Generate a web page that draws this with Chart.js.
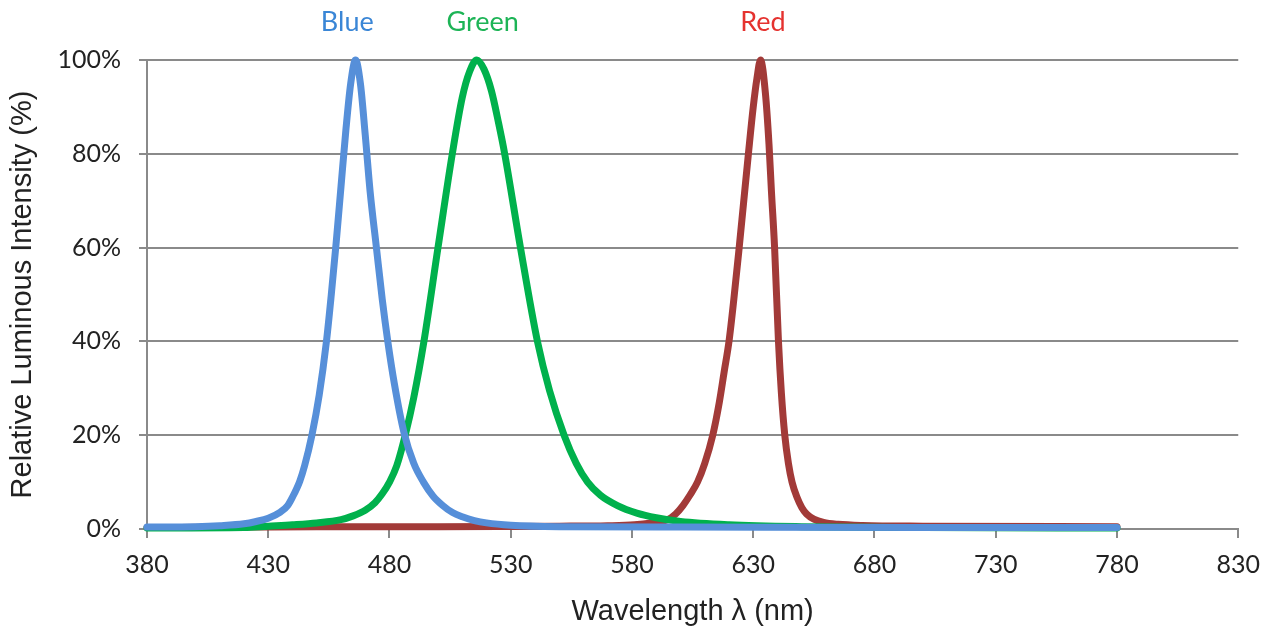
<!DOCTYPE html>
<html>
<head>
<meta charset="utf-8">
<script src="https://cdn.jsdelivr.net/npm/chart.js@4"></script>
<style>
  html, body { margin: 0; padding: 0; background: #fff; }
  #wrap { width: 1272px; height: 633px; }
</style>
</head>
<body>
<div id="wrap"><canvas id="spectrum" width="1272" height="633"></canvas></div>
<script>
// ===== Data =====
const xTicks = [380, 430, 480, 530, 580, 630, 680, 730, 780, 830];
const yTicks = [0, 20, 40, 60, 80, 100];

const blueWl  = [380, 400, 410, 420, 425, 430, 435, 438, 440, 443, 445, 448, 451, 454, 456, 458, 460, 462, 464, 466, 468, 470, 472, 474.6, 477, 479.3, 482, 486, 490, 494, 498, 502, 506, 510, 515, 520, 530, 550, 600, 700, 780];
const blueVal = [0.4, 0.5, 0.7, 1.1, 1.6, 2.3, 3.6, 5.0, 6.8, 10.2, 13.5, 20, 28.5, 40, 50, 61, 73, 85, 95, 100, 95, 84, 72, 60, 49, 40, 31, 20.5, 14, 10, 7, 5, 3.5, 2.6, 1.8, 1.3, 0.8, 0.5, 0.4, 0.3, 0.3];

const greenWl  = [380, 420, 430, 440, 450, 460, 465, 470, 474, 477, 480, 483, 486.5, 490, 494.2, 500, 505.9, 510, 513, 516, 519, 522, 525, 527.5, 534, 541, 546, 552, 557, 561.7, 567, 574, 582, 590, 600, 620, 650, 700, 780];
const greenVal = [0.2, 0.3, 0.6, 0.9, 1.3, 2.0, 2.8, 4.0, 5.6, 7.5, 10, 13.5, 20, 28, 40, 60, 80, 92, 97.5, 100, 98, 93.5, 86.5, 80, 60, 40, 29.5, 20, 14, 10, 7.2, 5, 3.4, 2.4, 1.6, 0.9, 0.5, 0.3, 0.2];

const redWl  = [380, 420, 450, 500, 550, 570, 581, 588, 594.7, 598, 601, 604, 607, 610, 613.3, 616, 618, 620, 622, 624, 626, 628, 630, 631.5, 633, 635, 636.5, 637.5, 638.8, 640.4, 641.6, 643, 644.5, 646, 648, 650, 652, 655, 659, 665, 675, 700, 780];
const redVal = [0.3, 0.4, 0.5, 0.5, 0.6, 0.7, 0.9, 1.3, 2, 3.2, 5, 7.3, 10, 14, 20, 27, 33.5, 40, 49, 59, 69.5, 80, 90, 96, 100, 93, 82, 72, 60, 40, 29, 20, 14, 10, 6.8, 4.6, 3.2, 2.1, 1.4, 1.0, 0.75, 0.6, 0.5];

const seriesNames = ["Blue", "Green", "Red"];
const labelWl = [462.6, 518.4, 634];

// ===== Helpers =====
function toPoints(xs, ys) {
  return xs.map((x, i) => ({ x: x, y: ys[i] }));
}

// colored names above the peaks
const peakLabels = {
  id: "peakLabels",
  afterDraw(chart) {
    const ctx = chart.ctx;
    const xs = chart.scales.x;
    const colors = ["#3a86d6", "#1db456", "#e5322f"];
    ctx.save();
    ctx.font = "27px Lato, 'Open Sans', sans-serif";
    ctx.textAlign = "center";
    ctx.textBaseline = "middle";
    seriesNames.forEach((name, i) => {
      ctx.fillStyle = colors[i];
      ctx.fillText(name, xs.getPixelForValue(labelWl[i]), 22);
    });
    ctx.restore();
  }
};

const gray = "#8a8a8a";
const tickFont = { family: "Lato, 'Open Sans', sans-serif", size: 25 };
const titleFont = { family: "'Liberation Sans', Arial, sans-serif", size: 29 };

const ctx = document.getElementById("spectrum");
new Chart(ctx, {
  type: "line",
  data: {
    datasets: [
      { label: "Blue",  data: toPoints(blueWl, blueVal),   borderColor: "#568fd9" },
      { label: "Green", data: toPoints(greenWl, greenVal), borderColor: "#00b14c" },
      { label: "Red",   data: toPoints(redWl, redVal),     borderColor: "#a23a38" }
    ].map(d => Object.assign(d, {
      borderWidth: 7,
      pointRadius: 0,
      cubicInterpolationMode: "monotone",
      borderJoinStyle: "round",
      borderCapStyle: "round",
      fill: false,
      clip: false
    }))
  },
  options: {
    responsive: false,
    animation: false,
    layout: { padding: { left: 0, right: 32, top: 60, bottom: 0 } },
    plugins: {
      legend: { display: false },
      tooltip: { enabled: false }
    },
    scales: {
      x: {
        type: "linear",
        min: xTicks[0],
        max: xTicks[xTicks.length - 1],
        afterBuildTicks: s => { s.ticks = xTicks.map(v => ({ value: v })); },
        afterFit: s => { s.height = 104; },
        grid: { drawOnChartArea: false, drawTicks: true, tickLength: 9, color: gray, lineWidth: 2 },
        border: { color: gray, width: 2 },
        ticks: { color: "#222", padding: 12, font: tickFont, maxRotation: 0 },
        title: {
          display: true,
          text: "Wavelength \u03bb (nm)",
          color: "#222",
          font: titleFont,
          padding: { top: 0 }
        }
      },
      y: {
        min: 0,
        max: 100,
        afterBuildTicks: s => { s.ticks = yTicks.map(v => ({ value: v })); },
        afterFit: s => { s.width = 147; },
        grid: { color: gray, lineWidth: 2, tickLength: 8 },
        border: { color: gray, width: 2 },
        ticks: {
          color: "#222",
          padding: 18,
          font: tickFont,
          callback: v => v + "%"
        },
        title: {
          display: true,
          text: "Relative Luminous Intensity (%)",
          color: "#222",
          font: titleFont,
          padding: { top: 6, bottom: 0 }
        }
      }
    }
  },
  plugins: [peakLabels]
});
</script>
</body>
</html>
